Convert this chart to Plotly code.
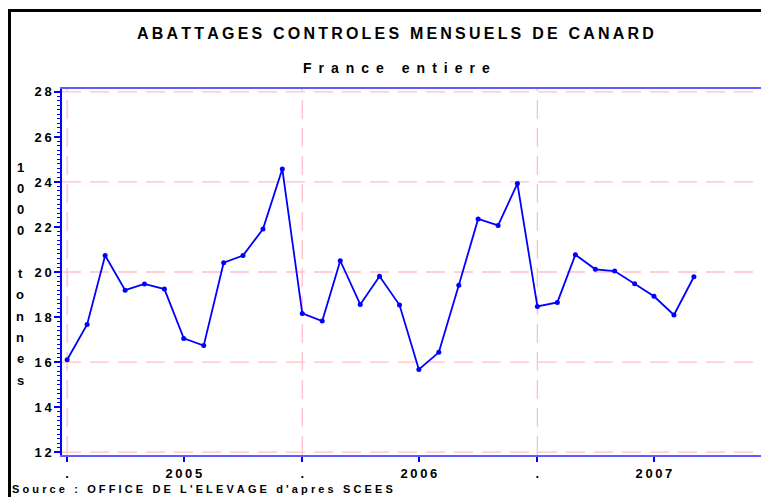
import plotly.graph_objects as go
import pandas as pd

# ---- data ----
months = pd.date_range("2005-01-01", periods=33, freq="MS")
values = [16.10, 17.67, 20.73, 19.19, 19.47, 19.24, 17.05, 16.73, 20.41, 20.73, 21.91, 24.58,
          18.16, 17.82, 20.50, 18.56, 19.81, 18.53, 15.67, 16.43, 19.41, 22.36, 22.07, 23.93,
          18.47, 18.65, 20.77, 20.12, 20.04, 19.48, 18.92, 18.09, 19.79]

x_tick_vals = ["2005-01-01", "2005-07-01", "2006-01-01", "2006-07-01", "2007-01-01", "2007-07-01", "2008-01-01"]
x_tick_text = [".", "2005", ".", "2006", ".", "2007", "."]
x_grid_vals = ["2005-01-01", "2006-01-01", "2007-01-01", "2008-01-01"]
y_tick_vals = [12, 14, 16, 18, 20, 22, 24, 26, 28]
y_grid_vals = [12, 16, 20, 24, 28]

title = "ABATTAGES CONTROLES MENSUELS DE CANARD"
subtitle = "France entiere"
source = "Source : OFFICE DE L'ELEVAGE d'apres SCEES"
ytitle = "1000 tonnes"

THIN = "\u2009"
HAIR = "\u200A"
EN = "\u2002"


def spaced(s, sep=THIN, word=" "):
    return (sep + word + sep).join(sep.join(w) for w in s.split(" "))


# page has an 8px body margin: figure is placed at (8, 8) in the window;
# the chart is cropped on the right, so the figure runs past the window edge
OFF = 8
W, H = 769, 497 - OFF
L, R, T, B = 62 - OFF, 0, 89 - OFF, 42
PW, PH = W - L - R, H - T - B


def px(xs):
    return (xs - OFF - L) / PW


def py(ys):
    return (H - B - (ys - OFF)) / PH


FONT = "Liberation Sans, Arial, sans-serif"
BLUE = "#0000ff"
PINK = "#ffc0cb"

fig = go.Figure()
fig.add_trace(go.Scatter(
    x=months, y=values, mode="lines+markers",
    line=dict(color=BLUE, width=1.8),
    marker=dict(color=BLUE, size=5, symbol="circle"),
    showlegend=False, hoverinfo="skip"))

shapes = []
for g in y_grid_vals:
    shapes.append(dict(type="line", xref="paper", yref="y", x0=0, x1=1, y0=g, y1=g,
                       line=dict(color=PINK, width=1.3, dash="19px,9px"), layer="below"))
for g in x_grid_vals:
    shapes.append(dict(type="line", xref="x", yref="paper", x0=g, x1=g, y0=0, y1=1,
                       line=dict(color=PINK, width=1.3, dash="19px,9px"), layer="below"))
# outer frame (left and top sides; right/bottom are cut off by the image)
shapes.append(dict(type="line", xref="paper", yref="paper", x0=px(9.5), x1=px(9.5),
                   y0=py(9.5), y1=py(520), line=dict(color="black", width=3)))
shapes.append(dict(type="line", xref="paper", yref="paper", x0=px(8), x1=px(800),
                   y0=py(10.5), y1=py(10.5), line=dict(color="black", width=3)))

annotations = [
    dict(text=spaced(title), x=px(395), y=py(33), xref="paper", yref="paper",
         showarrow=False, xanchor="center", yanchor="middle",
         font=dict(family=FONT, size=16, color="black", weight="bold")),
    dict(text=spaced(subtitle, sep=EN, word=" "), x=px(396), y=py(68), xref="paper", yref="paper",
         showarrow=False, xanchor="center", yanchor="middle",
         font=dict(family=FONT, size=14, color="black", weight="bold")),
    dict(text=spaced(source, sep=THIN + HAIR), x=px(10), y=py(489), xref="paper", yref="paper",
         showarrow=False, xanchor="left", yanchor="middle",
         font=dict(family=FONT, size=11, color="black", weight="bold")),
]
for i, ch in enumerate(ytitle):
    if ch == " ":
        continue
    annotations.append(dict(text=ch, x=px(20), y=py(167 + 21.3 * i), xref="paper", yref="paper",
                            showarrow=False, xanchor="center", yanchor="middle",
                            font=dict(family=FONT, size=13, color="black", weight="bold")))

fig.update_layout(
    width=W, height=H,
    margin=dict(l=L, r=R, t=T, b=B, pad=0),
    paper_bgcolor="white", plot_bgcolor="white",
    font=dict(family=FONT, color="black"),
    shapes=shapes, annotations=annotations,
    xaxis=dict(
        type="date", range=["2004-12-24", "2008-01-08"],
        tickmode="array", tickvals=x_tick_vals,
        ticktext=[spaced(t) for t in x_tick_text],
        ticks="outside", ticklen=5, tickwidth=1.5, tickcolor=BLUE,
        showgrid=False, zeroline=False,
        showline=True, linecolor="#5c5cff", linewidth=2, mirror=True,
        tickfont=dict(family=FONT, size=13, color="black", weight="bold"),
    ),
    yaxis=dict(
        range=[11.87, 28.13],
        tickmode="array", tickvals=y_tick_vals,
        ticktext=[spaced(str(v)) for v in y_tick_vals],
        ticks="outside", ticklen=6, tickwidth=1.5, tickcolor=BLUE,
        minor=dict(dtick=0.2, ticks="outside", ticklen=3, tickcolor=BLUE, tickwidth=1, showgrid=False),
        showgrid=False, zeroline=False,
        showline=True, linecolor=BLUE, linewidth=1.5,
        tickfont=dict(family=FONT, size=13, color="black", weight="bold"),
    ),
)

fig.write_html("out.html")
